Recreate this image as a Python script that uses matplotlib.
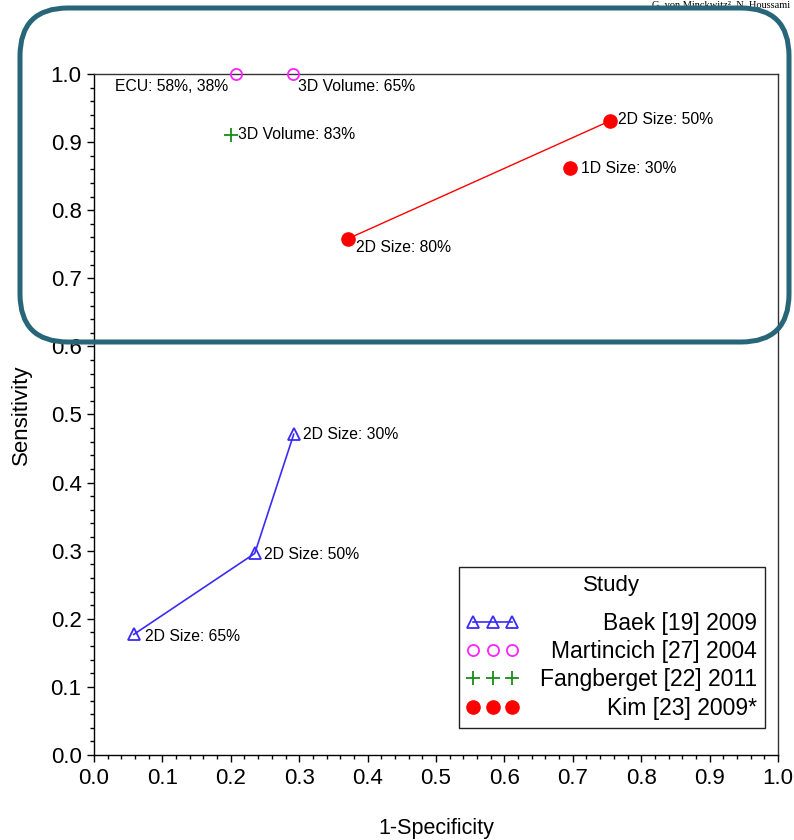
import numpy as np
import matplotlib.pyplot as plt
from matplotlib.lines import Line2D
from matplotlib.patches import FancyBboxPatch
from matplotlib.ticker import MultipleLocator
from matplotlib.transforms import IdentityTransform

plt.rcParams['font.family'] = ['Liberation Sans', 'DejaVu Sans']

# Baek [19] 2009
baek_x = [0.058, 0.235, 0.292]
baek_y = [0.177, 0.296, 0.471]
baek_lab = ['2D Size: 65%', '2D Size: 50%', '2D Size: 30%']

# Martincich [27] 2004
mart_x = [0.208, 0.291]
mart_y = [1.0, 1.0]
mart_lab = ['ECU: 58%, 38%', '3D Volume: 65%']

# Fangberget [22] 2011
fang_x = [0.200]
fang_y = [0.911]
fang_lab = ['3D Volume: 83%']

# Kim [23] 2009* (first two joined by a line)
kim_x = [0.371, 0.754, 0.696]
kim_y = [0.758, 0.931, 0.862]
kim_lab = ['2D Size: 80%', '2D Size: 50%', '1D Size: 30%']

studies = ['Baek [19] 2009', 'Martincich [27] 2004',
           'Fangberget [22] 2011', 'Kim [23] 2009*']

BLUE = '#3a2cf5'
MAGENTA = '#ff22ff'
GREEN = '#1a8c1a'
RED = '#ff0000'

fig = plt.figure(figsize=(7.94, 8.40), dpi=100)
ax = fig.add_axes([94 / 794, 1 - 755 / 840, 684 / 794, 681 / 840])

ax.plot(baek_x, baek_y, color=BLUE, lw=1.2, marker='^', ms=8,
        mfc='none', mec=BLUE, mew=1.3, clip_on=False)
ax.plot(mart_x, mart_y, ls='none', marker='o', ms=8, mfc='none',
        mec=MAGENTA, mew=1.3, clip_on=False, zorder=5)
ax.plot(fang_x, fang_y, ls='none', marker='+', ms=10, mec=GREEN,
        mew=1.3, clip_on=False)
ax.plot(kim_x[:2], kim_y[:2], color=RED, lw=1.0, clip_on=False)
ax.plot(kim_x, kim_y, ls='none', marker='o', ms=9.5, mfc=RED, mec=RED,
        clip_on=False)

fs_ann = 11.3


def label(t, x, y, dx, dy, ha='left'):
    ax.annotate(t, (x, y), xytext=(dx, dy), textcoords='offset points',
                ha=ha, va='center', fontsize=fs_ann)


label(baek_lab[0], baek_x[0], baek_y[0], 8, -1.5)
label(baek_lab[1], baek_x[1], baek_y[1], 7, -0.5)
label(baek_lab[2], baek_x[2], baek_y[2], 7, 0)
label(mart_lab[0], mart_x[0], mart_y[0], -6, -9, ha='right')
label(mart_lab[1], mart_x[1], mart_y[1], 3.5, -9)
label(fang_lab[0], fang_x[0], fang_y[0], 5, 0)
label(kim_lab[0], kim_x[0], kim_y[0], 6, -6.5)
label(kim_lab[1], kim_x[1], kim_y[1], 6, 1)
label(kim_lab[2], kim_x[2], kim_y[2], 8, -0.5)

ax.set_xlim(0, 1)
ax.set_ylim(0, 1)
ax.xaxis.set_major_locator(MultipleLocator(0.1))
ax.yaxis.set_major_locator(MultipleLocator(0.1))
ax.xaxis.set_minor_locator(MultipleLocator(0.02))
ax.yaxis.set_minor_locator(MultipleLocator(0.02))
ax.xaxis.set_major_formatter(lambda v, p: f'{v:.1f}')
ax.yaxis.set_major_formatter(lambda v, p: f'{v:.1f}')
ax.tick_params(which='major', length=5, width=1.0, labelsize=16, pad=4)
ax.tick_params(which='minor', length=3, width=1.0)
for s in ax.spines.values():
    s.set_linewidth(1.0)
    s.set_color('#333333')
ax.spines['bottom'].set_color('black')
ax.spines['left'].set_color('black')

ax.set_xlabel('1-Specificity', fontsize=15.5, labelpad=21)
ax.set_ylabel('Sensitivity', fontsize=16, labelpad=13)

handles = [
    Line2D([], [], color=BLUE, lw=1.2, marker='^', ms=8, mfc='none', mec=BLUE, mew=1.3),
    Line2D([], [], ls='none', marker='o', ms=8, mfc='none', mec=MAGENTA, mew=1.3),
    Line2D([], [], ls='none', marker='+', ms=10, mec=GREEN, mew=1.3),
    Line2D([], [], ls='none', marker='o', ms=9.5, mfc=RED, mec=RED),
]
leg = ax.legend(handles, studies, title='Study', loc='lower right',
                bbox_to_anchor=(0.981, 0.04), numpoints=3, fontsize=16.5,
                title_fontsize=16, handlelength=2.3, handletextpad=0.9,
                labelspacing=0.23, borderpad=0.35, borderaxespad=0,
                fancybox=False, framealpha=1, edgecolor='#222222')
leg.get_frame().set_linewidth(1.0)
leg._legend_box.sep = 11.5

# right-align the legend labels
fig.canvas.draw()
renderer = fig.canvas.get_renderer()
entries = [e for col in leg._legend_handle_box.get_children()
           for e in col.get_children()]
wmax = max(e.get_bbox(renderer).width for e in entries)
for e in entries:
    e.width = wmax
    e.mode = 'expand'

# header text of the page (partly cut off)
fig.text(0.995, 1 - 7 / 840, 'G. von Minckwitz², N. Houssami',
         ha='right', va='baseline', fontsize=7.5,
         family=['Liberation Serif', 'DejaVu Serif'])

# rounded highlight frame, in pixels
box = FancyBboxPatch((20, 840 - 342), 769, 334,
                     boxstyle='round,pad=0,rounding_size=48',
                     transform=IdentityTransform(),
                     fill=False, edgecolor='#266678', lw=3.6, zorder=10)
fig.patches.append(box)

fig.savefig('out.png', dpi=100)
